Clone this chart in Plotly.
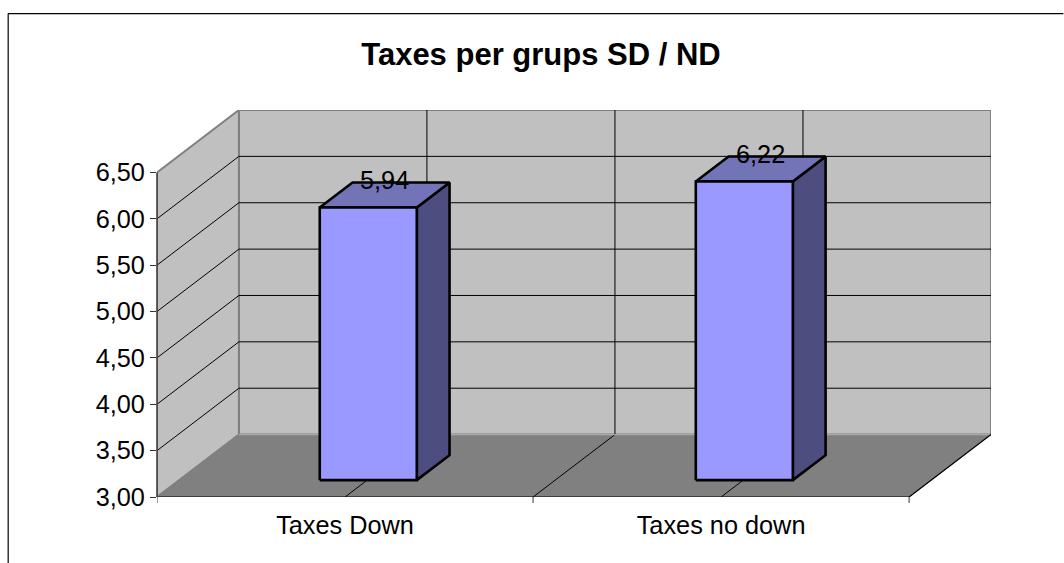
import plotly.graph_objects as go

title_text = "Taxes per grups SD / ND"
categories = ["Taxes Down", "Taxes no down"]
values = [5.94, 6.22]
value_labels = ["5,94", "6,22"]
y_ticks = [3.0, 3.5, 4.0, 4.5, 5.0, 5.5, 6.0, 6.5]
y_tick_labels = ["3,00", "3,50", "4,00", "4,50", "5,00", "5,50", "6,00", "6,50"]

Y_MIN, Y_MAX = 3.0, 6.5
W, H = 1064, 563
L, R_FRONT, BOTTOM, TOP_FRONT = 156.5, 909.5, 497.0, 172.0
DX, DY = 82.0, 62.5
R = R_FRONT + DX
TOP = TOP_FRONT - DY
PX_PER_CAT = (R_FRONT - L) / 2
PX_PER_VAL = (BOTTOM - TOP_FRONT) / (Y_MAX - Y_MIN)
X_END = 2 + DX / PX_PER_CAT
Y_END = Y_MIN + (BOTTOM - TOP) / PX_PER_VAL
FONT = "Liberation Sans"
LABEL_SIZE = 25.3


def proj(cat, val, depth=0.0):
    """Oblique projection: category, value and depth (0 front, 1 back) to axis units."""
    return cat + depth * DX / PX_PER_CAT, val + depth * DY / PX_PER_VAL


def poly(points, fill=None, line=None, width=1.0):
    xs, ys = zip(*[proj(*p) for p in points])
    return go.Scatter(
        x=list(xs), y=list(ys), mode="lines", cliponaxis=False,
        fill="toself" if fill else None, fillcolor=fill,
        line=dict(color=line or "rgba(0,0,0,0)", width=width),
        hoverinfo="skip", showlegend=False,
    )


WALL = "#c0c0c0"
WALL_EDGE = "#808080"
FLOOR = "#808080"
fig = go.Figure()

# back wall, side wall and floor
fig.add_trace(poly([(0, Y_MIN, 1), (2, Y_MIN, 1), (2, Y_MAX, 1), (0, Y_MAX, 1), (0, Y_MIN, 1)], WALL, WALL_EDGE, 2.0))
fig.add_trace(poly([(0, Y_MIN, 0), (0, Y_MIN, 1), (0, Y_MAX, 1), (0, Y_MAX, 0), (0, Y_MIN, 0)], WALL, WALL_EDGE, 2.0))
fig.add_trace(poly([(0, Y_MIN, 0), (2, Y_MIN, 0), (2, Y_MIN, 1), (0, Y_MIN, 1), (0, Y_MIN, 0)], FLOOR, FLOOR, 1.0))

# gridlines: side wall and back wall for values, floor and back wall for categories
for v in y_ticks[1:-1]:
    fig.add_trace(poly([(0, v, 0), (0, v, 1), (2, v, 1)], None, "#000000", 1.0))
for c in [0.5, 1.0, 1.5]:
    fig.add_trace(poly([(c, Y_MIN, 0), (c, Y_MIN, 1), (c, Y_MAX, 1)], None, "#000000", 1.0))
fig.add_trace(poly([(0, Y_MIN, 1), (2, Y_MIN, 1)], None, "#a8a8a8", 1.4))

# outer front edges
fig.add_trace(poly([(0, Y_MIN, 0), (2, Y_MIN, 0), (2, Y_MIN, 1)], None, "#000000", 1.2))

# bars
HALF_W = 0.129
D0, D1 = 0.27, 0.67
for i, v in enumerate(values):
    c = i + 0.5 + 0.003
    l, r = c - HALF_W, c + HALF_W
    edge = dict(line="#000000", width=2.6)
    fig.add_trace(poly([(r, Y_MIN, D0), (r, Y_MIN, D1), (r, v, D1), (r, v, D0), (r, Y_MIN, D0)], "#4d4d80", **edge))
    fig.add_trace(poly([(l, v, D0), (r, v, D0), (r, v, D1), (l, v, D1), (l, v, D0)], "#7373b8", **edge))
    fig.add_trace(poly([(l, Y_MIN, D0), (r, Y_MIN, D0), (r, v, D0), (l, v, D0), (l, Y_MIN, D0)], "#9999ff", **edge))
    x, _ = proj(c, v, (D0 + D1) / 2)
    _, y = proj(c, v, D1)
    fig.add_annotation(x=x, y=y, text=value_labels[i], showarrow=False, xanchor="center",
                       yanchor="middle", yshift=3,
                       font=dict(family=FONT, size=LABEL_SIZE, color="#000000"))

axis_shapes = [
    dict(type="line", xref="paper", yref="paper", x0=0, x1=0, y0=0,
         y1=(Y_MAX - Y_MIN) / (Y_END - Y_MIN), line=dict(color="#404040", width=1.6)),
]
for c in [0, 1, 2]:
    axis_shapes.append(dict(type="line", xref="x", yref="paper", x0=c, x1=c, y0=0,
                            y1=-6 / (BOTTOM - TOP), line=dict(color="#333333", width=1)))
# chart frame: top and left edges only, running off the picture
frame_px = [(7.5, H), (7.5, 13.0), (W, 13.0)]
for (xa, ya), (xb, yb) in zip(frame_px[:-1], frame_px[1:]):
    axis_shapes.append(dict(type="line", xref="paper", yref="paper",
                            x0=(xa - L) / (R - L), x1=(xb - L) / (R - L),
                            y0=(BOTTOM - ya) / (BOTTOM - TOP), y1=(BOTTOM - yb) / (BOTTOM - TOP),
                            line=dict(color="#000000", width=1.2)))

fig.update_layout(
    width=W, height=H, autosize=False,
    paper_bgcolor="#ffffff", plot_bgcolor="rgba(0,0,0,0)",
    margin=dict(l=L, r=W - R, t=TOP, b=H - BOTTOM, pad=0),
    showlegend=False,
    title=dict(text="<b>" + title_text + "</b>", x=541 / W, xanchor="center", y=1 - 54 / H, yanchor="middle",
               font=dict(family=FONT, size=31, color="#000000")),
    font=dict(family=FONT, size=LABEL_SIZE, color="#000000"),
    xaxis=dict(range=[0, X_END], tickmode="array", tickvals=[0.5, 1.5], ticktext=categories,
               showgrid=False, zeroline=False, showline=False, ticks="", ticklabelstandoff=11,
               tickfont=dict(family=FONT, size=LABEL_SIZE), fixedrange=True),
    yaxis=dict(range=[Y_MIN, Y_END], tickmode="array", tickvals=y_ticks, ticktext=y_tick_labels,
               showgrid=False, zeroline=False, showline=False, ticks="outside", ticklen=6,
               tickcolor="#333333", tickwidth=1.2,
               tickfont=dict(family=FONT, size=LABEL_SIZE), fixedrange=True),
    shapes=axis_shapes,
)

fig.write_html("out.html", config=dict(displayModeBar=False),
               post_script="document.body.style.margin='0';document.body.style.overflow='hidden';")
